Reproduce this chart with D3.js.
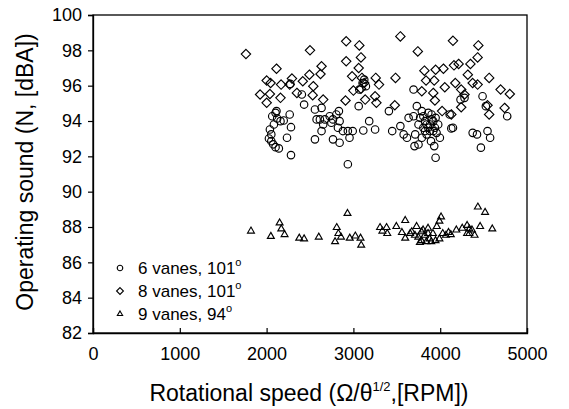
<!DOCTYPE html>
<html><head><meta charset="utf-8">
<script src="https://cdn.jsdelivr.net/npm/d3@7"></script>
<style>body{margin:0;background:#fff}svg{display:block}text{font-family:"Liberation Sans",Arial,sans-serif;fill:#000}</style>
</head><body><svg id="c" width="569" height="409"></svg>
<script>
const xTicks=[0,1000,2000,3000,4000,5000];
const yTicks=[82,84,86,88,90,92,94,96,98,100];
const seriesNames=["6 vanes, 101","8 vanes, 101","9 vanes, 94"];
const vanes6=[[2038,93.52],[2054,93.24],[2027,93.01],[2054,92.86],[2076,92.68],[2103,92.52],[2141,92.45],[2084,93.80],[2065,94.27],[2103,94.46],[2122,94.14],[2160,93.99],[2197,94.03],[2266,94.37],[2281,93.65],[2235,93.05],[2281,92.07],[2273,96.10],[2114,94.56],
[2406,95.50],[2432,94.93],[2557,94.65],[2576,94.09],[2614,94.09],[2633,94.74],[2671,94.09],[2652,93.80],[2557,92.96],[2633,93.43],[2727,94.27],[2746,93.90],[2765,94.09],[2803,94.37],[2833,94.56],[2841,93.99],[2822,93.62],[2765,92.96],[2841,92.77],[2879,93.43],[2936,93.43],[2955,93.05],[2992,93.43],[3114,93.46],[3182,93.99],[3250,93.52],[3061,94.84],[2936,91.55],[3068,95.78],[3106,96.15],[3125,96.34],[3144,95.97],
[3409,94.56],[3447,93.43],[3541,93.71],[3579,93.24],[3617,93.05],[3636,94.18],[3693,95.78],[3693,94.27],[3712,93.24],[3731,94.84],[3704,92.58],[3750,92.67],[3788,94.56],[3806,94.27],[3825,93.99],[3844,93.80],[3863,93.62],[3882,93.43],[3825,93.43],[3788,93.05],[3901,94.37],[3920,93.99],[3939,93.62],[3958,93.33],[3977,93.80],[3996,93.05],[3894,92.86],[3931,92.58],[3947,91.92],[3844,93.24],[3806,93.62],[3769,94.18],[3750,93.80],[3863,94.46],[3901,94.09],[3947,94.18],[3882,93.80],[3920,93.43],
[4109,94.37],[4147,93.62],[4128,93.58],[4234,95.21],[4280,95.31],[4374,93.33],[4424,93.24],[4488,95.40],[4526,94.84],[4545,93.43],[4575,93.05],[4469,92.49],[4772,94.27]];
const vanes8=[[1762,97.79],[2114,96.96],[2001,96.29],[2046,96.15],[1925,95.50],[2038,95.53],[2001,95.03],[2167,96.06],[2160,95.31],[2292,96.40],[2266,96.06],[2349,95.59],[2417,96.25],[2493,96.62],[2500,98.00],[2538,95.97],[2531,95.46],[2633,97.10],[2621,96.66],[2652,95.21],
[2917,98.51],[2917,97.38],[3068,98.28],[3087,97.60],[3061,97.00],[2985,96.53],[3098,96.44],[3125,96.15],[3000,95.72],[2909,95.16],[3136,95.21],[3257,96.44],[3295,96.06],[3250,95.40],[3265,95.03],[3485,96.44],[3477,94.89],[3541,98.79],[3742,97.94],[3818,96.85],[3837,96.29],[3931,96.29],[3947,96.90],[4037,96.96],[4053,95.91],[3920,95.59],[3939,95.16],[4022,94.56],
[4147,98.54],[4159,97.15],[4212,97.23],[4348,97.23],[4439,98.28],[4431,97.60],[4318,96.62],[4174,96.15],[4242,95.78],[4280,95.50],[4374,96.15],[4431,96.06],[4242,94.78],[4128,94.37],[4564,96.44],[4545,94.89],[4564,94.37],[4696,95.78],[4802,95.53],[4742,94.74],[3087,95.83],[3788,95.68]];
const vanes9=[[1820,87.77],[2049,87.47],[2150,88.23],[2169,87.89],[2207,87.57],[2376,87.37],[2432,87.33],[2601,87.43],[2789,87.17],[2808,87.97],[2827,87.63],[2857,87.43],[2958,87.37],[3022,87.49],[3082,87.37],[3090,86.97],[2932,88.77],
[3307,87.97],[3334,87.77],[3382,87.97],[3390,87.63],[3495,88.03],[3597,88.37],[3559,87.69],[3597,87.37],[3653,87.63],[3728,88.03],[3747,87.43],[3784,87.73],[3822,87.53],[3860,87.93],[3878,87.33],[3916,87.63],[3946,87.23],[3961,88.03],[3991,88.33],[4010,88.57],[4029,87.63],[4066,87.53],[4096,87.69],[4122,87.57],[4186,87.83],[4254,87.93],[4310,88.09],[4336,87.63],[4366,87.83],[4396,87.53],[4460,88.03],[4434,89.13],[4517,88.83],[4600,87.89],[3784,87.23],[3841,87.17],[3897,87.17],[3709,87.53],[3672,87.73],[3803,87.83],[3860,87.63],[3766,87.13],[3991,87.33],[4310,87.63],[4336,87.89]];

const svg=d3.select("#c");
const L=93,R=527,T=15,B=333;
const x=d3.scaleLinear().domain([0,5000]).range([L,R]);
const y=d3.scaleLinear().domain([82,100]).range([B,T]);

svg.append("rect").attr("x",L).attr("y",T).attr("width",R-L).attr("height",B-T).attr("fill","none").attr("stroke","#000").attr("stroke-width",1.3);

const xa=svg.append("g").attr("transform",`translate(0,${B})`).call(d3.axisBottom(x).tickValues(xTicks).tickSize(-5).tickPadding(14).tickFormat(d3.format("d")));
const ya=svg.append("g").attr("transform",`translate(${L},0)`).call(d3.axisLeft(y).tickValues(yTicks).tickSize(5).tickPadding(6).tickFormat(d3.format("d")));
[xa,ya].forEach(a=>{a.select(".domain").attr("stroke","#000").attr("stroke-width",1.3);a.selectAll("line").attr("stroke","#000").attr("stroke-width",1.2);a.selectAll("text").attr("font-size",18).attr("font-family","Liberation Sans, Arial, sans-serif");});

const gens=[d3.symbol().type(d3.symbolCircle).size(44),d3.symbol().type(d3.symbolDiamond2).size(56),d3.symbol().type(d3.symbolTriangle2).size(34)];
[vanes6,vanes8,vanes9].forEach((data,i)=>{
  svg.append("g").selectAll("path").data(data).join("path")
    .attr("transform",d=>`translate(${x(d[0])},${y(d[1])})`)
    .attr("d",gens[i]()).attr("fill","none").attr("stroke","#000").attr("stroke-width",1.15);
});

const lgens=[d3.symbol().type(d3.symbolCircle).size(24),d3.symbol().type(d3.symbolDiamond2).size(30),d3.symbol().type(d3.symbolTriangle2).size(20)];
seriesNames.forEach((n,i)=>{
  const cy=268+i*23;
  svg.append("path").attr("transform",`translate(120,${cy})`).attr("d",lgens[i]()).attr("fill","none").attr("stroke","#000").attr("stroke-width",1.1);
  const t=svg.append("text").attr("x",138).attr("y",cy+6).attr("font-size",17).text(n);
  t.append("tspan").attr("font-size",11).attr("dy",-8).text("o");
});

const xt=svg.append("text").attr("x",309).attr("y",401).attr("text-anchor","middle").attr("font-size",23);
xt.append("tspan").text("Rotational speed (\u03A9/\u03B8");
xt.append("tspan").attr("font-size",13).attr("dy",-10).text("1/2");
xt.append("tspan").attr("dy",10).text(",[RPM])");
svg.append("text").attr("transform","translate(33,172) rotate(-90)").attr("text-anchor","middle").attr("font-size",23).text("Operating sound (N, [dBA])");
</script></body></html>
